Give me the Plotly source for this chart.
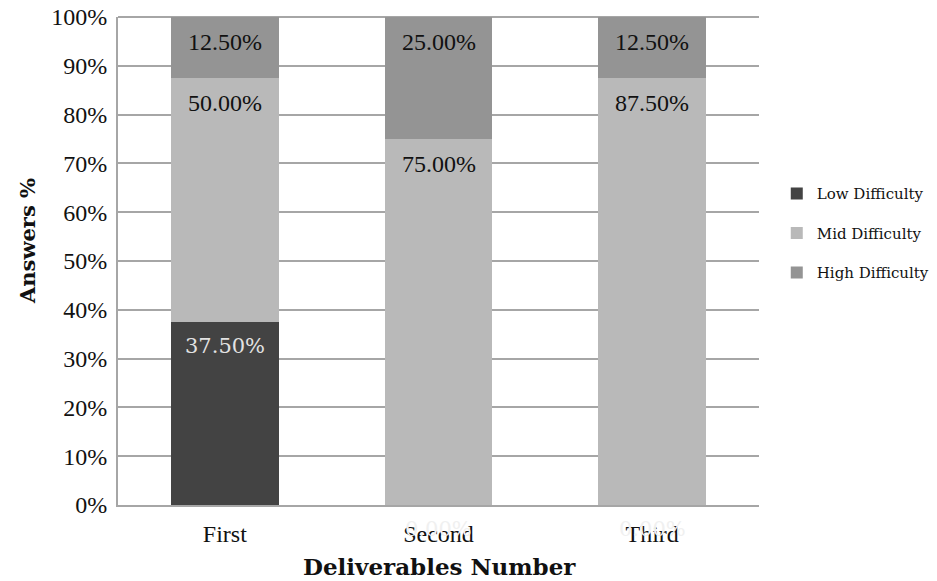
import plotly.graph_objects as go

categories = ["First", "Second", "Third"]
low = [37.5, 0.0, 0.0]
mid = [50.0, 75.0, 87.5]
high = [12.5, 25.0, 12.5]
y_ticks = list(range(0, 101, 10))

series = [
    ("Low Difficulty", low, "#434343"),
    ("Mid Difficulty", mid, "#b9b9b9"),
    ("High Difficulty", high, "#949494"),
]

fig = go.Figure()
for name, vals, color in series:
    fig.add_trace(go.Bar(
        x=categories, y=vals, name=name, legendgroup=name,
        marker=dict(color=color, line=dict(width=0)),
        hoverinfo="skip",
    ))

# value labels just under the top edge of each stacked segment
annotations = []
base = [0.0] * len(categories)
label_style = {
    "Low Difficulty": ("DejaVu Serif", 21, "#e2e2e2"),
    "Mid Difficulty": ("Liberation Serif", 24, "#111111"),
    "High Difficulty": ("Liberation Serif", 24, "#111111"),
}
for name, vals, _ in series:
    family, size, color = label_style[name]
    for i, (cat, v) in enumerate(zip(categories, vals)):
        top = base[i] + v
        annotations.append(dict(
            x=cat, y=top, xref="x", yref="y", text=f"{v:.2f}%",
            showarrow=False, yanchor="top", yshift=-10,
            font=dict(family=family, size=size,
                      color=color if v > 0 else "#f0f0f0"),
        ))
        base[i] = top

# axis titles
annotations.append(dict(
    text="<b>Answers %</b>", textangle=-90, showarrow=False,
    xref="paper", yref="paper", x=0, y=0.541, xanchor="center", yanchor="middle",
    xshift=-90, font=dict(family="DejaVu Serif", size=21, color="#111111"),
))
annotations.append(dict(
    text="<b>Deliverables Number</b>", showarrow=False,
    xref="paper", yref="paper", x=0.502, y=0, xanchor="center", yanchor="middle",
    yshift=-61, font=dict(family="DejaVu Serif", size=23, color="#111111"),
))

fig.update_layout(
    barmode="stack",
    bargap=0.495,
    width=937, height=581,
    margin=dict(l=118, r=178, t=17, b=76, autoexpand=False),
    paper_bgcolor="white", plot_bgcolor="white",
    font=dict(family="Liberation Serif", color="#111111"),
    annotations=annotations,
    legend=dict(
        xref="container", yref="container",
        x=0.829, y=0.695, xanchor="left", yanchor="top",
        font=dict(family="DejaVu Serif", size=15, color="#111111"),
        tracegroupgap=17, itemwidth=30,
        traceorder="grouped",
    ),
    xaxis=dict(
        showgrid=False, showline=True, linecolor="#a6a6a6", linewidth=2,
        ticks="", ticklabelstandoff=6,
        tickfont=dict(family="Liberation Serif", size=24, color="#111111"),
    ),
    yaxis=dict(
        range=[0, 100], tickvals=y_ticks, ticktext=[f"{t}%" for t in y_ticks],
        showgrid=True, gridcolor="#a6a6a6", gridwidth=1.5,
        showline=True, linecolor="#a6a6a6", linewidth=2,
        ticks="", ticklen=0, ticklabelstandoff=4,
        tickfont=dict(family="Liberation Serif", size=24, color="#111111"),
        zeroline=False,
    ),
)

fig.add_shape(type="line", xref="paper", yref="paper", x0=0, x1=1, y0=1, y1=1,
              line=dict(color="#a6a6a6", width=2), layer="below")

fig.write_html("out.html")
